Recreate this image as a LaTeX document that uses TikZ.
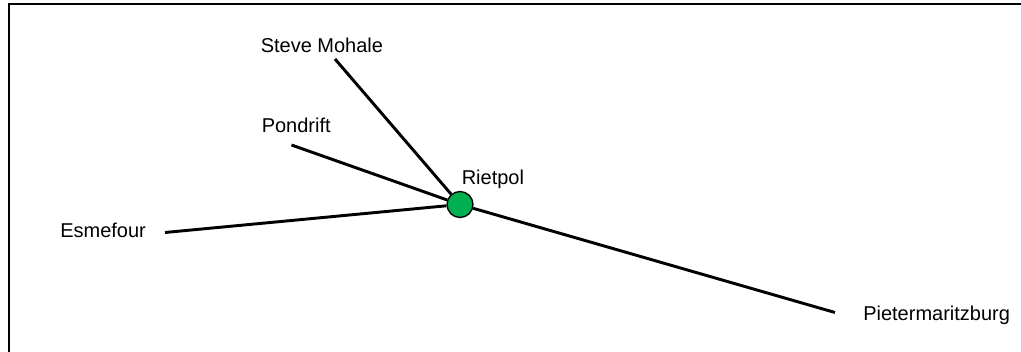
\documentclass[tikz,border=0pt]{standalone}
\usepackage{fontspec}
\setmainfont{Liberation Sans}
\definecolor{hubgreen}{RGB}{0,176,80}
\begin{document}
\begin{tikzpicture}[x=0.75pt,y=-0.75pt,
  place/.style={anchor=base west,inner sep=0pt,font=\fontsize{15}{18}\selectfont},
  route/.style={line width=2.2pt},
  hub/.style={circle,draw=black,line width=1pt,fill=hubgreen,minimum size=19.5pt,inner sep=0pt}]
\useasboundingbox (0,0) rectangle (1021,352);
% frame edges
\draw[line width=1.5pt] (8.5,352) -- (8.5,4) -- (1021,4);
% hub town
\node[hub] (rietpol) at (460,204.5) {};
\node[place] (lrietpol) at (461.5,185) {Rietpol};
% outer towns and route ends
\node[place] (lsteve) at (260.5,52.5) {Steve Mohale};
\node[place] (lpond) at (261.5,132.5) {Pondrift};
\node[place] (lesme) at (60,237.5) {Esmefour};
\node[place] (lpmb) at (863,320.5) {Pietermaritzburg};
\coordinate (esteve) at (335,59);
\coordinate (epond) at (291.5,145);
\coordinate (eesme) at (165,232.5);
\coordinate (epmb) at (835,312.5);
% routes
\draw[route] (esteve) -- (rietpol);
\draw[route] (epond) -- (rietpol);
\draw[route] (eesme) -- (rietpol);
\draw[route] (epmb) -- (rietpol);
\end{tikzpicture}
\end{document}
